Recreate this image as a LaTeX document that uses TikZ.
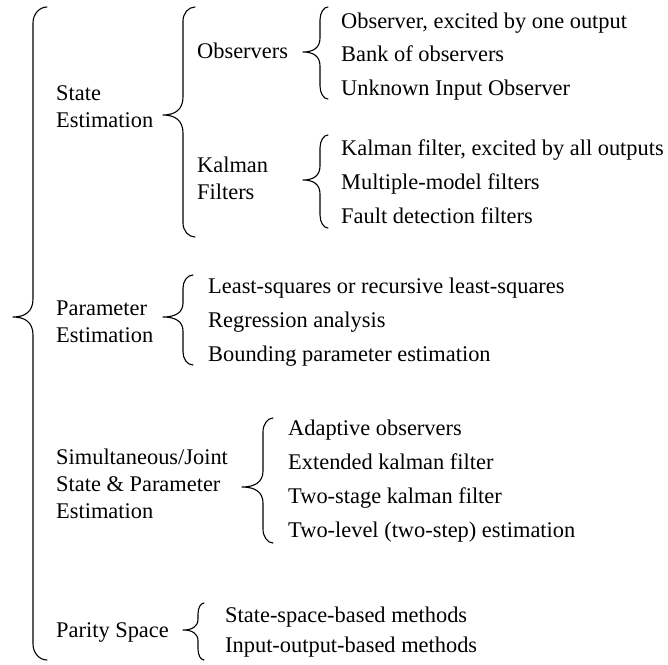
\documentclass[tikz,border=0pt]{standalone}
\usepackage{fontspec}
\setmainfont{Liberation Serif}
% curly brace: #1 hook x, #2 spine x, #3 tip x, #4 top y, #5 tip y, #6 bottom y, #7 hook radius, #8 tip radius
\newcommand{\curlybrace}[8]{%
  \draw[bracestyle] (#1,#4) .. controls ({#2+0.45*(#1-#2)},#4) and (#2,{#4+0.45*#7}) .. (#2,{#4+#7})
    -- (#2,{#5-#8}) .. controls (#2,{#5-0.3*#8}) and ({#2-0.4*(#2-#3)},#5) .. (#3,#5)
    .. controls ({#2-0.4*(#2-#3)},#5) and (#2,{#5+0.3*#8}) .. (#2,{#5+#8})
    -- (#2,{#6-#7}) .. controls (#2,{#6-0.45*#7}) and ({#2+0.45*(#1-#2)},#6) .. (#1,#6);}
\begin{document}
\begin{tikzpicture}[x=1pt,y=-1pt,
  bracestyle/.style={line width=1.1pt,line join=round,line cap=round},
  lbl/.style={inner sep=0pt,anchor=base west,font=\fontsize{22.4}{27}\selectfont,align=left}]
\useasboundingbox (0,0) rectangle (668,664);

% outer brace
\curlybrace{47}{33}{13}{7}{317}{660}{16}{18}

% first level
\node[lbl] (se1) at (56,100) {State};
\node[lbl] (se2) at (56,127) {Estimation};
\node[lbl] (pe1) at (56,315) {Parameter};
\node[lbl] (pe2) at (56,342) {Estimation};
\node[lbl] (sj1) at (56,464) {Simultaneous/Joint};
\node[lbl] (sj2) at (56,491) {State \& Parameter};
\node[lbl] (sj3) at (56,518) {Estimation};
\node[lbl] (ps) at (56,637) {Parity Space};

% state estimation
\curlybrace{195}{183}{163}{7}{115}{237}{14}{18}
\node[lbl] (obs) at (197,58) {Observers};
\node[lbl] (kf1) at (197,172) {Kalman};
\node[lbl] (kf2) at (197,199) {Filters};

\curlybrace{328}{320}{303}{7}{52}{99}{13}{14}
\node[lbl] (o1) at (341,28) {Observer, excited by one output};
\node[lbl] (o2) at (341,61.5) {Bank of observers};
\node[lbl] (o3) at (341,95) {Unknown Input Observer};

\curlybrace{328}{320}{303}{135}{180}{228}{13}{14}
\node[lbl] (k1) at (341,155) {Kalman filter, excited by all outputs};
\node[lbl] (k2) at (341,189) {Multiple-model filters};
\node[lbl] (k3) at (341,223) {Fault detection filters};

% parameter estimation
\curlybrace{193}{183}{163}{275}{317}{365}{13}{14}
\node[lbl] (p1) at (208,293) {Least-squares or recursive least-squares};
\node[lbl] (p2) at (208,327) {Regression analysis};
\node[lbl] (p3) at (208,361) {Bounding parameter estimation};

% joint estimation
\curlybrace{273}{263}{242}{418}{487}{543}{14}{16}
\node[lbl] (j1) at (288,435) {Adaptive observers};
\node[lbl] (j2) at (288,469) {Extended kalman filter};
\node[lbl] (j3) at (288,503) {Two-stage kalman filter};
\node[lbl] (j4) at (288,537) {Two-level (two-step) estimation};

% parity space
\curlybrace{204}{198}{183}{603}{630}{660}{11}{11}
\node[lbl] (r1) at (225,622) {State-space-based methods};
\node[lbl] (r2) at (225,652) {Input-output-based methods};
\end{tikzpicture}
\end{document}
